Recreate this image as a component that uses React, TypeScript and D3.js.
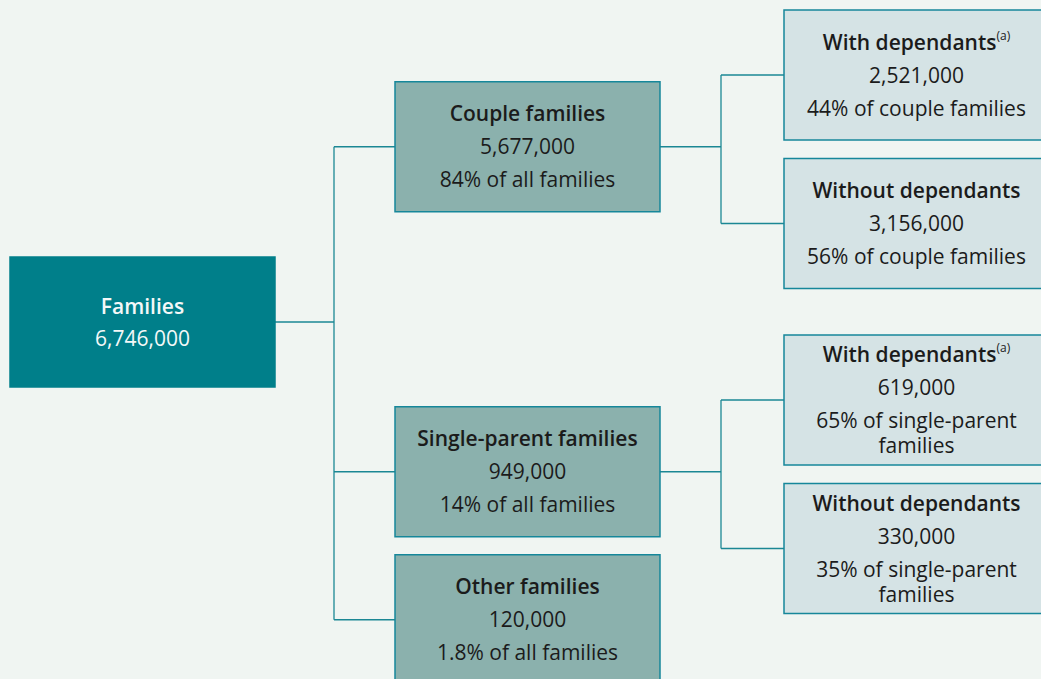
import React, { useEffect, useMemo } from 'react';
import * as d3 from 'd3';

// Family composition data
const rootName = 'Families';
const rootCount = 6746000;

const level1Names = ['Couple families', 'Single-parent families', 'Other families'];
const level1Counts = [5677000, 949000, 120000];
const level1Shares = ['84%', '14%', '1.8%'];

const level2Parents = ['Couple families', 'Couple families', 'Single-parent families', 'Single-parent families'];
const level2Names = ['With dependants', 'Without dependants', 'With dependants', 'Without dependants'];
const level2Notes = ['(a)', '', '(a)', ''];
const level2Counts = [2521000, 3156000, 619000, 330000];
const level2Shares = ['44%', '56%', '65%', '35%'];
const level2Of = ['couple families', 'couple families', 'single-parent families', 'single-parent families'];

const W = 1041;
const H = 679;
const BOX_W = 265;
const BOX_H = 130;
const FONT = '"Open Sans", "Noto Sans", sans-serif';
const FS = 21;

const colors = {
  bg: '#f0f5f2',
  root: '#007f8a',
  mid: '#8bb1ad',
  leaf: '#d5e3e5',
  stroke: '#16879a',
  text: '#1b1b1b',
  line: '#1b8794'
};

const fmt = d3.format(',');

let ctx: CanvasRenderingContext2D | null = null;
function measure(text: string, weight = 400) {
  if (!ctx) ctx = document.createElement('canvas').getContext('2d');
  ctx!.font = `${weight} ${FS}px ${FONT}`;
  return ctx!.measureText(text).width;
}

function wrap(text: string, maxW: number) {
  const words = text.split(' ');
  const lines: string[] = [];
  let cur = '';
  words.forEach(w => {
    const t = cur ? cur + ' ' + w : w;
    if (measure(t) > maxW && cur) {
      lines.push(cur);
      cur = w;
    } else cur = t;
  });
  if (cur) lines.push(cur);
  return lines;
}

type Line = { text: string; bold?: boolean; note?: string; gap: number };

const Box: React.FC<{ x: number; y: number; fill: string; stroke: string; color: string; lines: Line[] }> = ({ x, y, fill, stroke, color, lines }) => {
  // centre the block of line centres inside the box
  const offsets: number[] = [];
  let acc = 0;
  lines.forEach((l, i) => {
    if (i > 0) acc += l.gap;
    offsets.push(acc);
  });
  const start = y + BOX_H / 2 - acc / 2;
  return (
    <g>
      <rect x={x} y={y} width={BOX_W} height={BOX_H} fill={fill} stroke={stroke} strokeWidth={1.5} />
      {lines.map((l, i) => (
        <text
          key={i}
          x={x + BOX_W / 2}
          y={start + offsets[i]}
          dy="0.36em"
          textAnchor="middle"
          fontFamily={FONT}
          fontSize={FS}
          fontWeight={l.bold ? 600 : 400}
          fill={color}
        >
          {l.text}
          {l.note ? (
            <tspan fontSize={12} fontWeight={400} dy="-0.8em">{l.note}</tspan>
          ) : null}
        </text>
      ))}
    </g>
  );
};

export default function App() {
  useEffect(() => {
    document.body.style.margin = '0';
  }, []);

  const layout = useMemo(() => {
    // right column: leaves stacked per parent group
    const leafStep = 148.5;
    const groupGap = 28;
    const groups = Array.from(new Set(level2Parents));
    const leaves = level2Names.map((name, i) => {
      const g = groups.indexOf(level2Parents[i]);
      const y = 10 + i * leafStep + g * groupGap;
      return { name, i, y, cy: y + BOX_H / 2 };
    });
    // middle column: centred on children, otherwise stacked below
    let lastBottom = 0;
    const mids = level1Names.map((name, i) => {
      const kids = leaves.filter(l => level2Parents[l.i] === name);
      let y: number;
      if (kids.length) y = d3.mean(kids, k => k.cy)! - BOX_H / 2 - 2.5;
      else y = lastBottom + 18;
      lastBottom = y + BOX_H;
      return { name, i, y, cy: y + BOX_H / 2, kids };
    });
    const root = { y: 257, cy: 257 + BOX_H / 2 };
    return { leaves, mids, root };
  }, []);

  const xRoot = 10;
  const xMid = 395;
  const xLeaf = 784;
  const xJ1 = 334;
  const xJ2 = 721;

  const { leaves, mids, root } = layout;

  return (
    <svg width={W} height={H} style={{ display: 'block', background: colors.bg }}>
      <rect width={W} height={H} fill={colors.bg} />
      {/* connectors root -> mids */}
      <g stroke={colors.line} strokeWidth={1.3} fill="none">
        <line x1={xRoot + BOX_W} x2={xJ1} y1={root.cy} y2={root.cy} />
        <line x1={xJ1} x2={xJ1} y1={d3.min(mids, m => m.cy)!} y2={d3.max(mids, m => m.cy)!} />
        {mids.map(m => (
          <line key={m.name} x1={xJ1} x2={xMid} y1={m.cy} y2={m.cy} />
        ))}
        {mids.filter(m => m.kids.length).map(m => (
          <g key={'k' + m.name}>
            <line x1={xMid + BOX_W} x2={xJ2} y1={m.cy} y2={m.cy} />
            <line x1={xJ2} x2={xJ2} y1={d3.min(m.kids, k => k.cy)!} y2={d3.max(m.kids, k => k.cy)!} />
            {m.kids.map(k => (
              <line key={k.i} x1={xJ2} x2={xLeaf} y1={k.cy} y2={k.cy} />
            ))}
          </g>
        ))}
      </g>

      <Box
        x={xRoot}
        y={root.y}
        fill={colors.root}
        stroke={colors.root}
        color="#f4f8f8"
        lines={[
          { text: rootName, bold: true, gap: 0 },
          { text: fmt(rootCount), gap: 32 }
        ]}
      />

      {mids.map(m => (
        <Box
          key={m.name}
          x={xMid}
          y={m.y}
          fill={colors.mid}
          stroke={colors.stroke}
          color={colors.text}
          lines={[
            { text: m.name, bold: true, gap: 0 },
            { text: fmt(level1Counts[m.i]), gap: 33 },
            ...wrap(`${level1Shares[m.i]} of all families`, 240).map((t, j) => ({ text: t, gap: j === 0 ? 33 : 25 }))
          ]}
        />
      ))}

      {leaves.map(l => (
        <Box
          key={l.i}
          x={xLeaf}
          y={l.y}
          fill={colors.leaf}
          stroke={colors.stroke}
          color={colors.text}
          lines={[
            { text: l.name, bold: true, note: level2Notes[l.i], gap: 0 },
            { text: fmt(level2Counts[l.i]), gap: 33 },
            ...wrap(`${level2Shares[l.i]} of ${level2Of[l.i]}`, 240).map((t, j) => ({ text: t, gap: j === 0 ? 33 : 25 }))
          ]}
        />
      ))}
    </svg>
  );
}
